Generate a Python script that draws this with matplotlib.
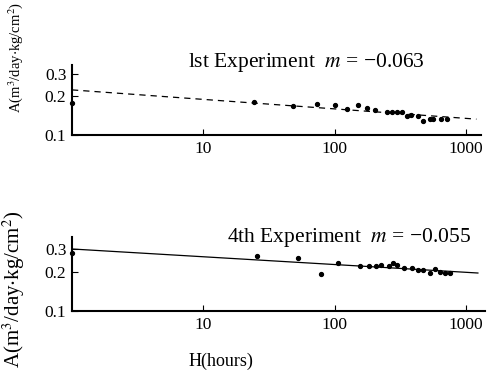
import matplotlib
matplotlib.use("Agg")
import matplotlib.pyplot as plt
from matplotlib.ticker import FixedLocator, NullLocator, FixedFormatter

plt.rcParams['font.family'] = ['Liberation Serif', 'DejaVu Serif']
plt.rcParams['mathtext.fontset'] = 'stix'

# 1st experiment data
h1 = [1, 24.4, 48, 73.6, 100, 124, 151, 177, 203, 251, 273, 298, 326, 356, 380, 431, 471, 532, 561, 640, 718]
a1 = [0.178, 0.180, 0.169, 0.175, 0.172, 0.161, 0.172, 0.163, 0.157, 0.152, 0.152, 0.152, 0.152,
      0.141, 0.143, 0.141, 0.129, 0.133, 0.133, 0.133, 0.133]
fit1_h = [1, 1200]
fit1_a = [0.225, 0.133]
label1 = "lst Experiment  $m$ = \u22120.063"

# 4th experiment data
h4 = [1, 25.6, 52.5, 79, 106, 156, 181, 207, 225, 257, 280, 300, 334, 387, 434, 473, 532, 581, 634, 692, 755]
a4 = [0.277, 0.265, 0.256, 0.191, 0.234, 0.223, 0.223, 0.223, 0.225, 0.221, 0.235, 0.224, 0.215,
      0.214, 0.208, 0.205, 0.196, 0.211, 0.198, 0.196, 0.196]
fit4_h = [1, 1230]
fit4_a = [0.300, 0.196]
label4 = "4th Experiment  $m$ = \u22120.055"

xticks = [10, 100, 1000]
xticklabels = ["10", "100", "1000"]
yticks = [0.1, 0.2, 0.3]
yticklabels = ["0.1", "0.2", "0.3"]

ylabel = r"A(m$^3$/day$\cdot$kg/cm$^2$)"

fig = plt.figure(figsize=(4.87, 3.74), dpi=100)
W, H = 487, 374

def mkax(left, top, right, bottom):
    return fig.add_axes([left / W, 1 - bottom / H, (right - left) / W, (bottom - top) / H])

ax1 = mkax(72, 65, 481, 135)
ax2 = mkax(72, 237, 485, 311)

for ax in (ax1, ax2):
    ax.set_xscale('log')
    ax.set_yscale('log')
    for s in ('top', 'right'):
        ax.spines[s].set_visible(False)
    for s in ('left', 'bottom'):
        ax.spines[s].set_linewidth(1.5)
    ax.xaxis.set_major_locator(FixedLocator(xticks))
    ax.xaxis.set_major_formatter(FixedFormatter(xticklabels))
    ax.xaxis.set_minor_locator(NullLocator())
    ax.yaxis.set_major_locator(FixedLocator(yticks))
    ax.yaxis.set_major_formatter(FixedFormatter(yticklabels))
    ax.yaxis.set_minor_locator(NullLocator())
    ax.tick_params(direction='in', length=4, width=0.8, labelsize=12.5, pad=4)

ax1.set_xlim(1, 1300)
ax1.set_ylim(0.1, 0.352)
ax2.set_xlim(1, 1393)
ax2.set_ylim(0.1, 0.371)

ax1.plot(fit1_h, fit1_a, color='black', lw=0.9, ls=(0, (5, 4)))
ax1.plot(h1, a1, 'o', color='black', ms=2.8, clip_on=False)
ax1.text(0.574, 1.04, label1, transform=ax1.transAxes, ha='center', va='center', fontsize=15.5)

ax2.plot(fit4_h, fit4_a, color='black', lw=0.9)
ax2.plot(h4, a4, 'o', color='black', ms=2.8, clip_on=False)
ax2.text(0.67, 0.99, label4, transform=ax2.transAxes, ha='center', va='center', fontsize=15.5)

ax1.set_ylabel(ylabel, fontsize=10.5)
ax2.set_ylabel(ylabel, fontsize=15)
ax1.yaxis.set_label_coords(-0.115, 1.107)
ax2.yaxis.set_label_coords(-0.109, 0.29)
ax2.set_xlabel("H(hours)", fontsize=13)
ax2.xaxis.set_label_coords(0.36, -0.57)

fig.savefig("out.png", dpi=100)
